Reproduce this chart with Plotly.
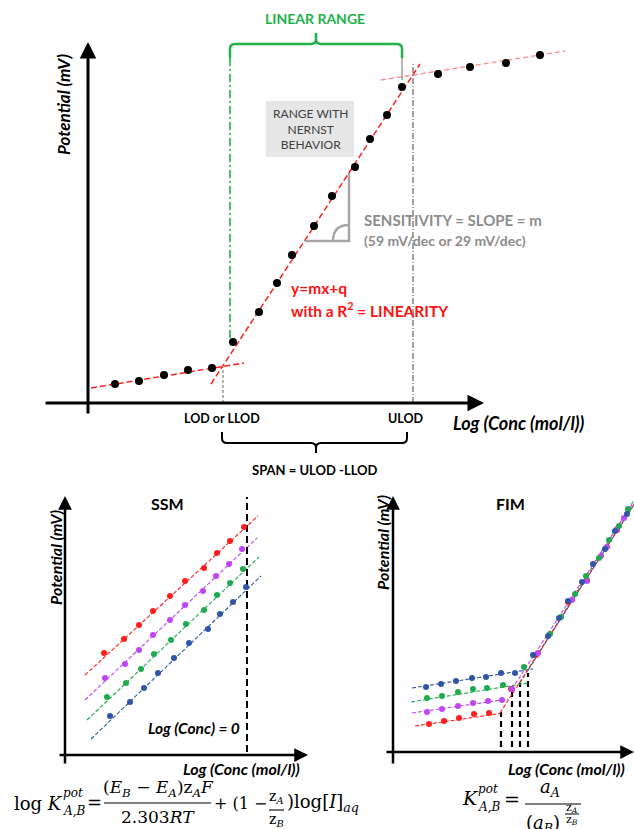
import plotly.graph_objects as go

W, H = 634, 829

# ---------------- DATA ----------------
# Main calibration chart (x: log conc, arbitrary units; y: potential, arbitrary units)
main_low_x = [2.7, 5.1, 7.6, 10.0, 12.4]
main_low_y = [1.9, 2.2, 2.8, 3.3, 3.5]
main_lin_x = [14.5, 17.1, 18.9, 20.4, 22.6, 24.4, 26.7, 28.2, 29.9, 31.4]
main_lin_y = [6.1, 9.1, 12.0, 14.8, 17.7, 20.7, 23.6, 26.4, 28.8, 31.6]
main_high_x = [35.0, 38.2, 41.8, 45.2]
main_high_y = [32.9, 33.6, 34.0, 34.8]
fit_low_x, fit_low_y = [0.3, 15.6], [1.5, 4.0]
fit_lin_x, fit_lin_y = [12.3, 33.2], [1.9, 33.9]
fit_high_x, fit_high_y = [29.3, 47.7], [32.3, 35.2]
lod_x, lod_top = 13.5, 3.6
ulod_x, ulod_top = 32.5, 34.1
linrange_x, linrange_bottom, linrange_top = 14.2, 6.5, 34.5

# SSM chart
ssm_red_x = [3.9, 5.9, 7.4, 8.8, 10.5, 12.0, 13.9, 15.2, 16.5, 17.9]
ssm_red_y = [10.2, 11.6, 13.0, 14.4, 15.9, 17.4, 18.7, 20.2, 21.4, 22.8]
ssm_vio_x = [4.0, 6.0, 7.4, 8.8, 10.5, 12.0, 13.8, 15.1, 16.4, 17.7]
ssm_vio_y = [7.7, 9.1, 10.5, 12.0, 13.5, 15.0, 16.4, 17.9, 19.1, 20.6]
ssm_grn_x = [4.2, 6.1, 7.6, 8.9, 10.6, 12.1, 13.9, 15.2, 16.5, 17.8]
ssm_grn_y = [5.8, 7.2, 8.6, 10.1, 11.5, 13.1, 14.5, 16.0, 17.2, 18.6]
ssm_blu_x = [4.5, 6.5, 7.9, 9.3, 10.9, 12.4, 14.3, 15.5, 16.8, 18.1]
ssm_blu_y = [3.9, 5.3, 6.7, 8.2, 9.7, 11.2, 12.6, 14.1, 15.3, 16.8]
ssm_fit_red = ([2.0, 19.3], [8.0, 23.9])
ssm_fit_vio = ([2.0, 19.2], [5.5, 21.7])
ssm_fit_grn = ([2.2, 19.4], [3.5, 19.8])
ssm_fit_blu = ([2.6, 19.6], [1.6, 17.9])
ssm_logc0_x, ssm_logc0_y = 18.2, [0.3, 25.8]

# FIM chart
fim_blu_x = [3.3, 4.8, 6.3, 7.9, 9.3, 10.8, 12.2, 14.0, 15.5, 16.6, 17.5, 18.9, 20.0, 21.2, 22.2, 23.4]
fim_blu_y = [6.5, 6.8, 7.1, 7.4, 7.5, 7.9, 7.9, 9.7, 11.6, 13.4, 15.1, 17.0, 18.8, 20.3, 22.1, 23.8]
fim_grn_x = [3.4, 4.9, 6.5, 8.0, 9.4, 11.0, 13.1, 15.7, 16.8, 18.2, 19.3, 20.6, 21.6, 22.6, 23.5]
fim_grn_y = [5.4, 5.6, 6.0, 6.3, 6.4, 6.7, 8.5, 11.8, 13.5, 15.8, 17.6, 19.4, 21.2, 22.6, 24.3]
fim_vio_x = [3.4, 4.9, 6.5, 8.0, 9.5, 10.9, 11.9, 14.5, 17.9, 19.4, 20.8, 21.4, 22.4, 23.1]
fim_vio_y = [4.0, 4.3, 4.6, 4.9, 5.1, 5.2, 6.3, 9.9, 15.2, 17.1, 19.6, 20.5, 22.3, 23.4]
fim_red_x = [3.6, 5.1, 6.6, 8.1, 9.6, 11.8, 14.3, 17.5, 19.4, 22.4]
fim_red_y = [2.8, 3.1, 3.4, 3.8, 3.9, 6.3, 9.7, 15.0, 17.2, 22.2]
fim_fit_blu = ([1.9, 14.0], [6.4, 8.3], [13.5, 24.2], [8.2, 24.9])
fim_fit_grn = ([1.8, 13.5], [5.0, 6.9], [12.7, 24.3], [6.9, 25.5])
fim_fit_vio = ([1.9, 11.5], [3.9, 5.3], [11.9, 24.0], [6.3, 24.9])
fim_fit_red = ([2.2, 10.7], [2.6, 3.85], [10.7, 24.2], [3.9, 24.9])
fim_lod_x = [10.8, 11.9, 12.7, 13.5]
fim_lod_top = [4.0, 6.3, 6.9, 7.9]
fim_lod_bottom = 0.5

RED, VIO, GRN, BLU = "#ff1f1f", "#bf45f5", "#1faa4f", "#2f56a6"

# ---------------- FIGURE ----------------
fig = go.Figure()


def pts(x, y, color, size, xa, ya):
    fig.add_trace(go.Scatter(x=x, y=y, mode="markers", marker=dict(color=color, size=size),
                             xaxis=xa, yaxis=ya, showlegend=False, hoverinfo="skip"))


def line(x, y, color, width, dash, xa, ya):
    fig.add_trace(go.Scatter(x=x, y=y, mode="lines", line=dict(color=color, width=width, dash=dash),
                             xaxis=xa, yaxis=ya, showlegend=False, hoverinfo="skip"))


# main chart
line(fit_low_x, fit_low_y, "#ff2020", 1.5, "6px,3px", "x", "y")
line(fit_lin_x, fit_lin_y, "#ff2020", 1.5, "6px,3px", "x", "y")
line(fit_high_x, fit_high_y, "#ff8c8c", 1.3, "5px,3px", "x", "y")
line([lod_x, lod_x], [0, lod_top], "#666666", 1, "3px,2px", "x", "y")
line([ulod_x, ulod_x], [0, ulod_top], "#444444", 1, "6px,2px,1px,2px", "x", "y")
line([linrange_x, linrange_x], [linrange_bottom, linrange_top], "#22b24c", 1.6, "8px,3px,2px,3px", "x", "y")
pts(main_low_x + main_lin_x + main_high_x, main_low_y + main_lin_y + main_high_y, "black", 8, "x", "y")

# SSM
for (fx, fy), c in [(ssm_fit_red, RED), (ssm_fit_vio, VIO), (ssm_fit_grn, GRN), (ssm_fit_blu, BLU)]:
    line(fx, fy, c, 1.1, "4px,2px", "x2", "y2")
line([ssm_logc0_x, ssm_logc0_x], ssm_logc0_y, "black", 2, "7px,4px", "x2", "y2")
for x, y, c in [(ssm_red_x, ssm_red_y, RED), (ssm_vio_x, ssm_vio_y, VIO),
                (ssm_grn_x, ssm_grn_y, GRN), (ssm_blu_x, ssm_blu_y, BLU)]:
    pts(x, y, c, 6, "x2", "y2")

# FIM
for lx in range(len(fim_lod_x)):
    line([fim_lod_x[lx], fim_lod_x[lx]], [fim_lod_bottom, fim_lod_top[lx]], "black", 2.2, "6px,4px", "x3", "y3")
for (fx, fy, sx, sy), c in [(fim_fit_blu, BLU), (fim_fit_grn, GRN), (fim_fit_vio, VIO), (fim_fit_red, RED)]:
    line(fx, fy, c, 1.1, "4px,2px", "x3", "y3")
    line(sx, sy, c, 1.1, "4px,2px", "x3", "y3")
for x, y, c in [(fim_red_x, fim_red_y, RED), (fim_vio_x, fim_vio_y, VIO),
                (fim_grn_x, fim_grn_y, GRN), (fim_blu_x, fim_blu_y, BLU)]:
    pts(x, y, c, 6, "x3", "y3")

# ---------------- DECORATIONS (pixel axis x4/y4) ----------------
SANS = "Lato"
SERIF = "DejaVu Serif"
ann = []
shapes = []


def T(x, y, text, size, color="black", family=SANS, xanchor="center", yanchor="middle", angle=0):
    ann.append(dict(x=x, y=y, xref="x4", yref="y4", text=text, showarrow=False,
                    font=dict(family=family, size=size, color=color),
                    xanchor=xanchor, yanchor=yanchor, textangle=angle, align="center"))


def arrow(x0, y0, x1, y1, width):
    ann.append(dict(x=x1, y=y1, ax=x0, ay=y0, xref="x4", yref="y4", axref="x4", ayref="y4",
                    text="", showarrow=True, arrowhead=2, arrowsize=1.1, arrowwidth=width,
                    arrowcolor="black", standoff=0, startstandoff=0))


def path(p, color, width, fill=None):
    d = dict(type="path", path=p, xref="x4", yref="y4", line=dict(color=color, width=width))
    if fill:
        d["fillcolor"] = fill
    shapes.append(d)


# main axes
arrow(88, 415, 88, 42, 3)
arrow(44, 403, 484, 403, 3)
T(63, 105, "<b><i>Potential (mV)</i></b>", 17, angle=-90)
T(315, 18, "<b>LINEAR RANGE</b>", 14, color="#22b24c")
path("M 230 58 L 230 49 Q 230 44 235 44 L 311 44 Q 316 44 316 39 L 316 33 "
     "M 316 39 Q 316 44 321 44 L 397 44 Q 402 44 402 49 L 402 58", "#22b24c", 2.5)
path("M 402 58 L 402 80", "#444444", 0.8)
shapes.append(dict(type="rect", x0=266, x1=354, y0=101, y1=157, xref="x4", yref="y4",
                   fillcolor="#e6e6e6", line=dict(width=0), layer="below"))
T(310, 129, "RANGE WITH<br>NERNST<br>BEHAVIOR", 12, color="#404040")
path("M 305 241 L 349 241 L 349 173", "#a6a6a6", 2.5)
path("M 333 241 Q 333 225 349 225", "#a6a6a6", 2.5)
T(362, 220, "<b>SENSITIVITY = SLOPE = m</b>", 15, color="#8c8c8c", xanchor="left")
T(362, 240, "<b>(59 mV/dec or 29 mV/dec)</b>", 14, color="#8c8c8c", xanchor="left")
T(289, 288, "<b>y=mx+q</b>", 15.5, color="#ff1010", xanchor="left")
T(289, 309, "<b>with a R<sup>2</sup> = LINEARITY</b>", 15.5, color="#ff1010", xanchor="left")
T(222, 418, "<b>LOD or LLOD</b>", 12.5)
T(406, 418, "<b>ULOD</b>", 12.5)
T(519, 423, "<b><i>Log (Conc (mol/l))</i></b>", 18)
path("M 222 432 L 222 438 Q 222 443 227 443 L 311 443 Q 316 443 316 448 L 316 453 "
     "M 316 448 Q 316 443 321 443 L 402 443 Q 407 443 407 438 L 407 432", "black", 2)
T(315, 470, "<b>SPAN = ULOD -LLOD</b>", 13)

# SSM axes and text
arrow(65, 765, 65, 496, 2.5)
arrow(58, 755, 308, 755, 2.5)
T(167, 503, "<b>SSM</b>", 16)
T(55, 558, "<b><i>Potential (mV)</i></b>", 16, angle=-90)
T(242, 728, "<b><i>Log (Conc) = 0</i></b>", 15.5, xanchor="right")
T(302, 768, "<b><i>Log (Conc (mol/l))</i></b>", 16, xanchor="right")

# FIM axes and text
arrow(393, 765, 393, 496, 2.5)
arrow(385, 752, 634, 752, 2.5)
T(510, 503, "<b>FIM</b>", 16)
T(382, 543, "<b><i>Potential (mV)</i></b>", 16, angle=-90)
T(627, 768, "<b><i>Log (Conc (mol/l))</i></b>", 16, xanchor="right")

# SSM formula
T(12, 803, "log <i>K</i>", 18, family=SERIF, xanchor="left")
T(61, 793, "<i>pot</i>", 12, family=SERIF, xanchor="left")
T(61, 811, "<i>A,B</i>", 12, family=SERIF, xanchor="left")
T(94, 802, "=", 18, family=SERIF)
T(158, 788, "(<i>E</i><sub><i>B</i></sub> − <i>E</i><sub><i>A</i></sub>)z<sub><i>A</i></sub><i>F</i>", 17, family=SERIF)
path("M 104 803 L 211 803", "black", 1.2)
T(158, 817, "2.303<i>RT</i>", 17, family=SERIF)
T(212, 803, "+ (1 −", 16, family=SERIF, xanchor="left")
T(276, 797, "z<sub><i>A</i></sub>", 14, family=SERIF)
path("M 269 810 L 284 810", "black", 1.1)
T(276, 820, "z<sub><i>B</i></sub>", 14, family=SERIF)
T(285, 803, ")log[<i>I</i>]<sub><i>aq</i></sub>", 18, family=SERIF, xanchor="left")

# FIM formula
T(460, 798, "<i>K</i>", 19, family=SERIF, xanchor="left")
T(476, 789, "<i>pot</i>", 12, family=SERIF, xanchor="left")
T(476, 807, "<i>A,B</i>", 12, family=SERIF, xanchor="left")
T(512, 799, "=", 19, family=SERIF)
T(550, 788, "<i>a</i><sub><i>A</i></sub>", 18, family=SERIF)
path("M 525 804 L 581 804", "black", 1.2)
T(543, 824, "(<i>a</i><sub><i>B</i></sub>)", 18, family=SERIF)
T(572, 808, "z<sub><i>A</i></sub>", 11, family=SERIF)
path("M 565 814 L 579 814", "black", 1)
T(572, 820, "z<sub><i>B</i></sub>", 11, family=SERIF)

hidden = dict(visible=False, showgrid=False, zeroline=False, fixedrange=True)
fig.update_layout(
    width=W, height=H, autosize=False,
    margin=dict(l=0, r=0, t=0, b=0, pad=0),
    paper_bgcolor="white", plot_bgcolor="white",
    showlegend=False,
    xaxis=dict(domain=[0, 1], range=[-8.8, 54.6], anchor="y", **hidden),
    yaxis=dict(domain=[0, 1], range=[-42.6, 40.3], anchor="x", **hidden),
    xaxis2=dict(overlaying="x", range=[-6.5, 56.9], anchor="y2", **hidden),
    yaxis2=dict(overlaying="y", range=[-7.4, 75.5], anchor="x2", **hidden),
    xaxis3=dict(overlaying="x", range=[-39.3, 24.1], anchor="y3", **hidden),
    yaxis3=dict(overlaying="y", range=[-7.7, 75.2], anchor="x3", **hidden),
    xaxis4=dict(overlaying="x", range=[0, W], anchor="y4", **hidden),
    yaxis4=dict(overlaying="y", range=[H, 0], anchor="x4", **hidden),
    annotations=ann,
    shapes=shapes,
)

fig.write_html("out.html", config={"displayModeBar": False},
               post_script="document.body.style.margin='0';document.body.style.overflow='hidden';")
